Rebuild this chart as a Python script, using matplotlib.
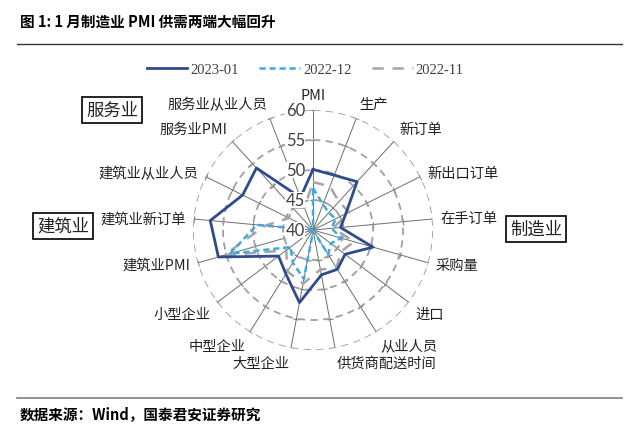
import numpy as np
import matplotlib
matplotlib.use('Agg')
import matplotlib.pyplot as plt
from matplotlib.lines import Line2D
from matplotlib.transforms import offset_copy

plt.rcParams['font.family'] = ['Noto Sans CJK SC', 'DejaVu Sans']

categories = ['PMI', '生产', '新订单', '新出口订单', '在手订单', '采购量', '进口', '从业人员',
              '供货商配送时间', '大型企业', '中型企业', '小型企业', '建筑业PMI', '建筑业新订单',
              '建筑业从业人员', '服务业PMI', '服务业从业人员']
jan23 = [50.1, 49.8, 50.9, 46.1, 44.6, 50.4, 46.7, 47.7, 47.6, 52.3, 48.6, 47.2, 56.4, 57.2, 53.1, 54.0, 45.8]
dec22 = [47.0, 44.6, 43.9, 44.2, 43.1, 44.9, 43.7, 44.8, 40.1, 48.3, 46.4, 44.7, 54.4, 49.4, 40.0, 39.4, 40.0]
nov22 = [48.0, 47.8, 46.4, 46.7, 43.4, 47.1, 45.9, 47.4, 46.7, 49.1, 48.1, 45.6, 55.4, 48.0, 44.5, 45.1, 44.0]
series_names = ['2023-01', '2022-12', '2022-11']
r_ticks = [40, 45, 50, 55, 60]
rmin, rmax = 40, 60

fig = plt.figure(figsize=(6.4, 4.35), dpi=100)
ax = fig.add_axes([0.3016, 0.193, 0.375, 0.5517], projection='polar')
ax.set_theta_offset(np.pi / 2)
ax.set_theta_direction(-1)
ax.set_ylim(rmin, rmax)
ax.spines['polar'].set_visible(False)

n = len(categories)
theta = np.arange(n) * 2 * np.pi / n

# spokes and dashed rings
ax.set_xticks(theta)
ax.set_xticklabels([])
ax.set_yticks(r_ticks[1:])
ax.set_yticklabels([])
ax.xaxis.grid(True, color='#6e6e6e', linewidth=0.7, linestyle='-')
ax.yaxis.grid(True, color='#a0a0a0', linewidth=1.3, linestyle=(0, (4, 3)))
ax.tick_params(axis='both', length=0)

# small ticks across each spoke
for t in theta:
    ang = 90 - np.degrees(t)
    ax.plot([t] * 4, r_ticks[1:], linestyle='none', marker=(2, 0, ang), markersize=4.5,
            markeredgecolor='#6e6e6e', markeredgewidth=0.7, zorder=1.5)

def closed(v):
    v = np.clip(np.array(v), rmin, None)
    return np.append(v, v[0])

th = np.append(theta, theta[0])
ax.plot(th, closed(nov22), color='#a6a6a6', linewidth=1.8, linestyle=(0, (4.5, 3.5)), label=series_names[2], zorder=3)
ax.plot(th, closed(dec22), color='#3fa9e0', linewidth=1.8, linestyle=(0, (2.5, 1.5)), label=series_names[1], zorder=4)
ax.plot(th, closed(jan23), color='#2f4b8e', linewidth=2.0, linestyle='-', label=series_names[0], zorder=5)

# radial labels to the left of the PMI spoke
lab_tr = offset_copy(ax.transData, fig=fig, x=-8, y=0, units='dots')
for r in r_ticks:
    ax.text(0, r, str(r), transform=lab_tr, ha='right', va='center', fontsize=12,
            family=['Lato', 'DejaVu Sans'], color='#404040', zorder=10,
            bbox=dict(facecolor='white', edgecolor='none', pad=0.3))

# category labels at the spoke ends
for t, name in zip(theta, categories):
    s, c = np.cos(t), np.sin(t)  # s: up component, c: right component
    ha = 'left' if c > 0.1 else ('right' if c < -0.1 else 'center')
    va = 'bottom' if s > 0.5 else ('top' if s < -0.5 else 'center')
    ax.text(t, 61.3, name, ha=ha, va=va, fontsize=10.3, color='#222222')

# sector boxes
for x, y, txt in [(112 / 640, 1 - 111 / 435, '服务业'), (63 / 640, 1 - 227 / 435, '建筑业'),
                  (536 / 640, 1 - 230 / 435, '制造业')]:
    fig.text(x, y, txt, ha='center', va='center', fontsize=12.5, color='#222222',
             bbox=dict(facecolor='white', edgecolor='black', linewidth=1.2, boxstyle='square,pad=0.25',
                       ))

# legend
h, l = ax.get_legend_handles_labels()
order = [2, 1, 0]
fig.legend([h[i] for i in order], [l[i] for i in order], loc='center', bbox_to_anchor=(305 / 640, 1 - 70 / 435),
           ncol=3, frameon=False, handlelength=2.8, handletextpad=0.2, columnspacing=1.4,
           prop={'family': 'Liberation Serif', 'size': 10.5}, labelcolor='#404040')

# title, rules and source
fig.text(20 / 640, 1 - 22 / 435, '图 1: 1 月制造业 PMI 供需两端大幅回升', ha='left', va='center',
         fontsize=10.5, fontweight='bold')
fig.add_artist(Line2D([17 / 640, 622 / 640], [1 - 45 / 435] * 2, color='#333333', linewidth=1.0))
fig.add_artist(Line2D([17 / 640, 622 / 640], [1 - 399 / 435] * 2, color='#808080', linewidth=1.2))
fig.text(20 / 640, 1 - 414 / 435, '数据来源：Wind，国泰君安证券研究', ha='left', va='center',
         fontsize=10.5, fontweight='bold')

fig.savefig('out.png', dpi=100)
